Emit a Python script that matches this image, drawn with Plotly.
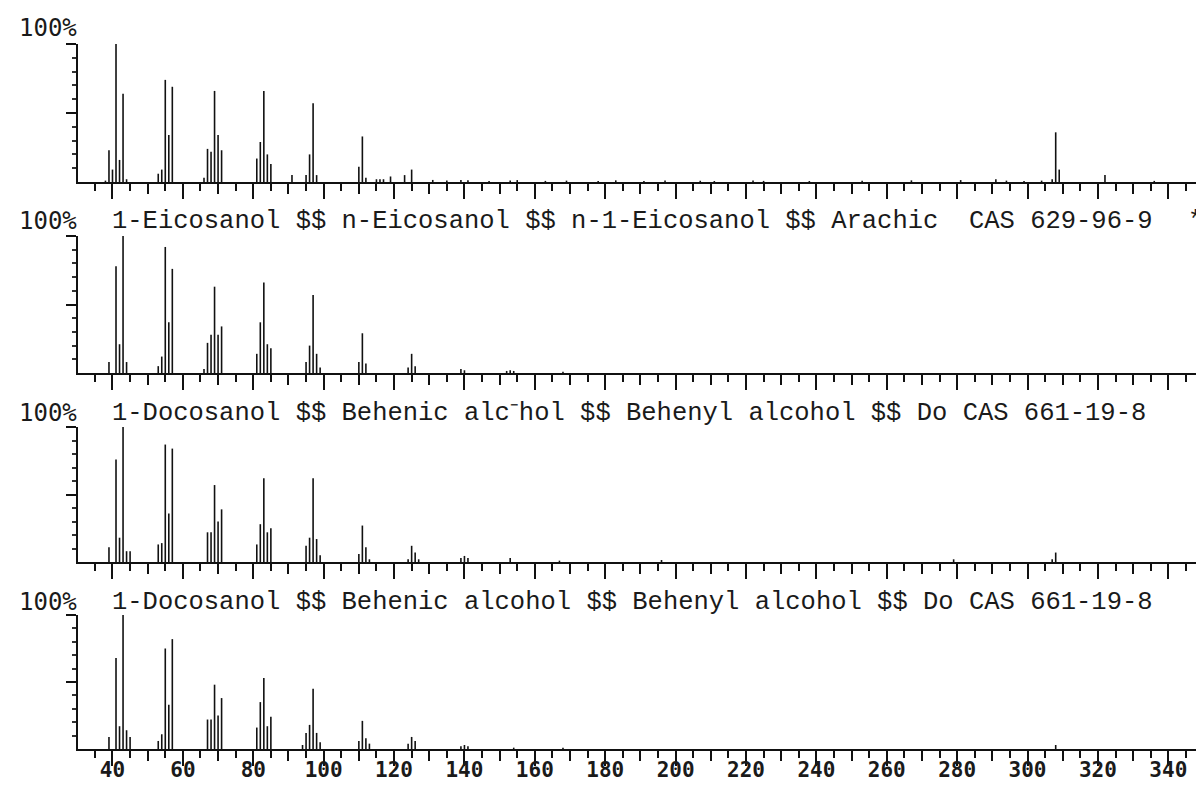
import plotly.graph_objects as go

# ---------------- data (m/z, relative intensity %) ----------------
mz_p1 = [38, 39, 40, 41, 42, 43, 44, 53, 54, 55, 56, 57, 66, 67, 68, 69, 70, 71,
         81, 82, 83, 84, 85, 91, 95, 96, 97, 98, 110, 111, 112, 115, 116, 117, 119,
         123, 125, 131, 135, 139, 141, 147, 153, 155, 163, 169, 178, 183, 191, 197,
         207, 211, 222, 225, 238, 253, 267, 281, 291, 294, 299, 304, 307, 308, 309,
         322, 336]
int_p1 = [1, 23, 9, 100, 16, 64, 2, 6, 9, 74, 34, 69, 3, 24, 22, 66, 34, 23,
          17, 29, 66, 20, 13, 5, 5, 20, 57, 5, 11, 33, 3, 2, 2, 2, 4,
          5, 9, 1.5, 1, 1.5, 1.2, 0.8, 1, 1.4, 0.8, 1, 0.7, 1.2, 0.8, 1,
          0.9, 0.7, 1, 0.8, 0.7, 0.9, 1.2, 1.4, 2, 1, 0.8, 1, 2, 36, 9,
          5, 0.8]

mz_p2 = [39, 41, 42, 43, 44, 53, 54, 55, 56, 57, 66, 67, 68, 69, 70, 71,
         81, 82, 83, 84, 85, 95, 96, 97, 98, 99, 110, 111, 112, 124, 125, 126,
         139, 140, 152, 153, 154, 168]
int_p2 = [8, 78, 21, 100, 8, 5, 12, 92, 37, 76, 3, 22, 28, 63, 28, 34,
          14, 37, 66, 21, 18, 8, 20, 57, 14, 4, 8, 29, 7, 4, 14, 5,
          3, 2, 1.5, 2, 1.5, 1]

mz_p3 = [39, 41, 42, 43, 44, 45, 53, 54, 55, 56, 57, 67, 68, 69, 70, 71,
         81, 82, 83, 84, 85, 95, 96, 97, 98, 99, 110, 111, 112, 113,
         124, 125, 126, 127, 139, 140, 141, 153, 167, 196, 279, 307, 308]
int_p3 = [11, 76, 18, 100, 8, 8, 13, 14, 87, 36, 84, 22, 22, 57, 30, 39,
          13, 28, 62, 22, 25, 12, 18, 62, 17, 5, 6, 27, 11, 2,
          2, 12, 7, 2, 3, 4.5, 3, 3, 1, 1.5, 2, 2, 7]

mz_p4 = [39, 41, 42, 43, 44, 45, 53, 54, 55, 56, 57, 67, 68, 69, 70, 71,
         81, 82, 83, 84, 85, 94, 95, 96, 97, 98, 99, 110, 111, 112, 113,
         124, 125, 126, 139, 140, 141, 154, 168, 308]
int_p4 = [9, 68, 17, 100, 14, 9, 6, 11, 75, 33, 82, 22, 22, 48, 25, 38,
          16, 35, 53, 17, 24, 3, 12, 18, 45, 12, 5, 6, 21, 8, 4,
          4, 9, 6, 2, 3, 2, 1, 1, 3]

x_ticks_major = list(range(40, 341, 20))
x_tick_labels = [str(v) for v in x_ticks_major]
x_ticks_mid = list(range(30, 350, 10))

title_p2 = "1-Eicosanol $$ n-Eicosanol $$ n-1-Eicosanol $$ Arachic  CAS 629-96-9"
title_p3 = "1-Docosanol $$ Behenic alc\u207bhol $$ Behenyl alcohol $$ Do CAS 661-19-8"
title_p4 = "1-Docosanol $$ Behenic alcohol $$ Behenyl alcohol $$ Do CAS 661-19-8"
pct_label = "100%"

# ---------------- layout geometry (pixels) ----------------
W, H = 1204, 787
X_LEFT, X_RIGHT = 70, 1192
X_RANGE = [30.2, 349.0]
panels_px = [(36, 174), (228, 365), (419, 554), (607, 741)]  # (top, baseline)
label_y = [20, 213, 405, 594]


def sticks(mz, inten):
    xs, ys = [], []
    for m, v in zip(mz, inten):
        xs += [m, m, None]
        ys += [0, v, None]
    return xs, ys


series = [(mz_p1, int_p1), (mz_p2, int_p2), (mz_p3, int_p3), (mz_p4, int_p4)]

fig = go.Figure()
layout = dict(
    width=W, height=H,
    margin=dict(l=0, r=0, t=0, b=0),
    paper_bgcolor="white", plot_bgcolor="white",
    showlegend=False,
)

for i, ((mz, it), (top, base)) in enumerate(zip(series, panels_px)):
    n = i + 1
    xs, ys = sticks(mz, it)
    fig.add_trace(go.Scatter(
        x=xs, y=ys, mode="lines",
        line=dict(color="#111111", width=1.6),
        xaxis="x" if n == 1 else f"x{n}",
        yaxis="y" if n == 1 else f"y{n}",
        hoverinfo="skip",
    ))
    # overlay axis for the medium (every 10) ticks
    m = n + 4
    fig.add_trace(go.Scatter(
        x=[None], y=[None], mode="lines",
        xaxis=f"x{m}", yaxis="y" if n == 1 else f"y{n}",
        hoverinfo="skip",
    ))
    dom_y = [1 - base / H, 1 - top / H]
    dom_x = [X_LEFT / W, X_RIGHT / W]
    yname = "y" if n == 1 else f"y{n}"
    layout["xaxis" if n == 1 else f"xaxis{n}"] = dict(
        domain=dom_x, range=X_RANGE, anchor=yname,
        showline=True, linecolor="#111111", linewidth=2,
        showgrid=False, zeroline=False,
        ticks="outside", tickmode="array",
        tickvals=x_ticks_major, ticktext=x_tick_labels,
        ticklen=15, tickwidth=2, tickcolor="#111111",
        showticklabels=(n == 4),
        ticklabelstandoff=-14,
        tickfont=dict(family="DejaVu Sans Mono", size=21, color="#1a1a1a",
                      weight="bold"),
        minor=dict(dtick=5, tick0=0, ticklen=7, tickwidth=2,
                   tickcolor="#111111", ticks="outside"),
    )
    layout[f"xaxis{m}"] = dict(
        domain=dom_x, range=X_RANGE, anchor=yname,
        overlaying="x" if n == 1 else f"x{n}",
        showline=False, showgrid=False, zeroline=False,
        ticks="outside", tickmode="array", tickvals=x_ticks_mid,
        ticklen=11, tickwidth=2, tickcolor="#111111",
        showticklabels=False,
    )
    layout["yaxis" if n == 1 else f"yaxis{n}"] = dict(
        domain=dom_y, range=[0, 100], anchor="x" if n == 1 else f"x{n}",
        showline=True, linecolor="#111111", linewidth=2,
        mirror="ticks", showgrid=False, zeroline=False,
        ticks="outside", tickmode="array", tickvals=[50, 100],
        ticklen=10, tickwidth=2, tickcolor="#111111",
        showticklabels=False,
        minor=dict(tickmode="array", tickvals=[10, 20, 30, 40, 60, 70, 80, 90],
                   ticklen=4, tickwidth=1.5, tickcolor="#333333", ticks="outside"),
    )

annotations = []
titles = [None, title_p2, title_p3, title_p4]
for i in range(4):
    annotations.append(dict(
        text=pct_label, xref="paper", yref="paper",
        x=9 / W, y=1 - label_y[i] / H, xanchor="left", yanchor="middle",
        showarrow=False,
        font=dict(family="DejaVu Sans Mono", size=24, color="#1a1a1a"),
    ))
    if titles[i]:
        annotations.append(dict(
            text=titles[i], xref="paper", yref="paper",
            x=102 / W, y=1 - label_y[i] / H, xanchor="left", yanchor="middle",
            showarrow=False,
            font=dict(family="Liberation Mono", size=25.5, color="#1a1a1a"),
        ))
annotations.append(dict(
    text="*", xref="paper", yref="paper",
    x=1178 / W, y=1 - label_y[1] / H, xanchor="left", yanchor="middle",
    showarrow=False, font=dict(family="Liberation Mono", size=25, color="#1a1a1a"),
))
layout["annotations"] = annotations

fig.update_layout(**layout)
fig.write_html("out.html")
